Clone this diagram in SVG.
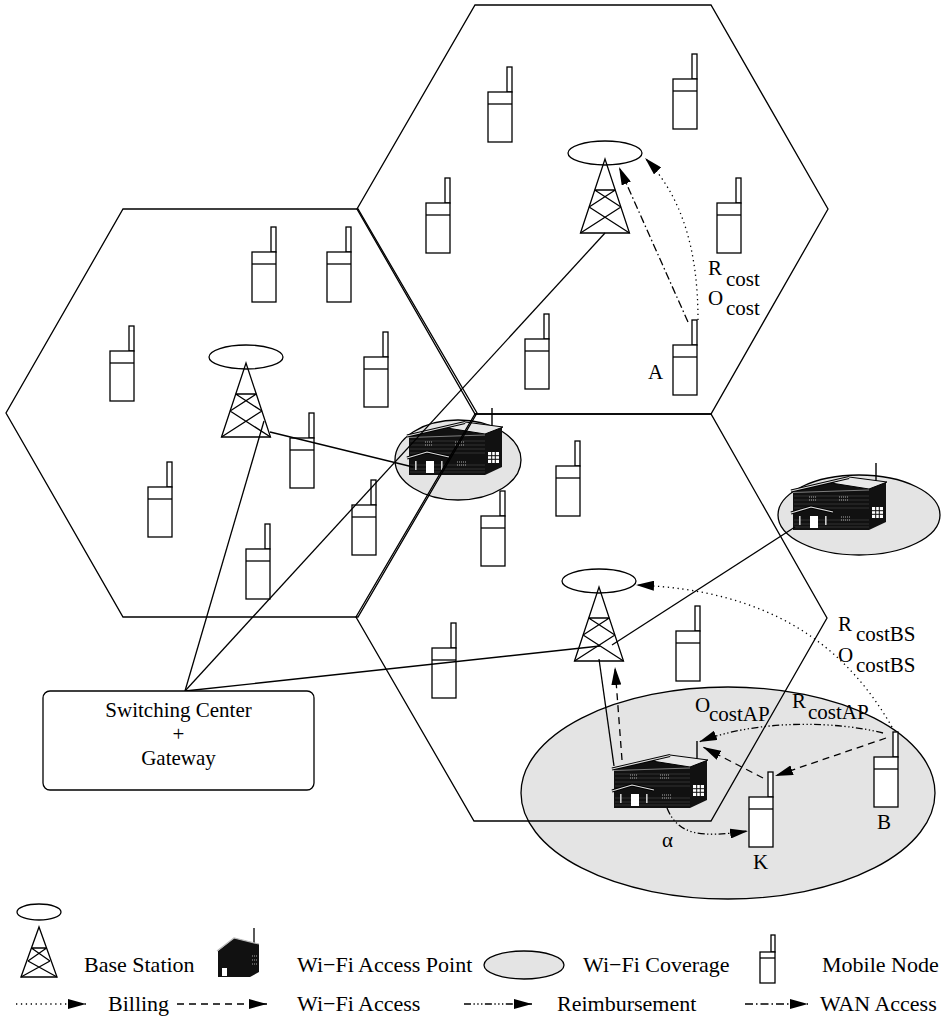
<svg xmlns="http://www.w3.org/2000/svg" xmlns:xlink="http://www.w3.org/1999/xlink" width="951" height="1024" viewBox="0 0 951 1024">
<style>
  .cell { fill: none; stroke: #000; stroke-width: 1.3; }
  .cover { fill: #e4e4e4; stroke: #000; stroke-width: 1.3; }
  .wire { fill: none; stroke: #000; stroke-width: 1.3; }
  .ln { fill: none; stroke: #000; stroke-width: 1.3; }
  .box { fill: #fff; stroke: #000; stroke-width: 1.3; }
  .flow { fill: none; stroke: #000; stroke-width: 1.3; }
  .billing { stroke-dasharray: 1.3 3.6; }
  .wifi { stroke-dasharray: 7 5; }
  .reimb { stroke-dasharray: 7 2.5 1.3 2.5 1.3 2.5 1.3 2.5; }
  .wan { stroke-dasharray: 8 3 1.5 3; }
  text { font-family: "Liberation Serif", "Times New Roman", serif; font-size: 21px; fill: #000; }
  #legend text { font-size: 22px; }
</style>
<defs>
  <marker id="ah" viewBox="0 0 18 10" refX="18" refY="5" markerWidth="18" markerHeight="10" markerUnits="userSpaceOnUse" orient="auto">
    <path d="M0,0 L18,5 L0,10 z" fill="#000"/>
  </marker>
  <!-- base station: antenna ring over a lattice tower, apex at origin -->
  <g id="tower">
    <ellipse cx="0" cy="-6" rx="37" ry="12" class="ln"/>
    <polygon points="-24.5,74 0,0 24.5,74" class="ln"/>
    <path d="M-10.3,31H10.3 M-10.3,31L15.9,48 M10.3,31L-15.9,48 M-15.9,48L24.5,74 M15.9,48L-24.5,74" class="ln"/>
  </g>
  <!-- handset: body top-left at origin -->
  <g id="mobile">
    <rect x="19" y="-25" width="5" height="25" class="box"/>
    <rect x="0" y="0" width="24" height="50" class="box"/>
    <line x1="0" y1="12" x2="24" y2="12" class="ln"/>
  </g>
  <!-- access point building -->
  <g id="ap">
    <line x1="85" y1="-12" x2="85" y2="6" stroke="#000" stroke-width="1.4"/>
    <polygon points="2,16 58,3 78,11 95,7 95,47 78,55 2,55" fill="#111"/>
    <polygon points="58,2 96,7 78,14 40,8" fill="#e8e8e8" stroke="#000" stroke-width="1"/>
    <line x1="0" y1="16" x2="58" y2="2.5" stroke="#000" stroke-width="3"/>
    <line x1="0" y1="16" x2="58" y2="2.5" stroke="#ddd" stroke-width="1.2"/>
    <line x1="2" y1="17.5" x2="78" y2="15" stroke="#999" stroke-width="0.8"/>
    <path d="M3,21H78M3,25H78M3,29H78M3,33H78M3,45H78M3,49H78M3,52H78" stroke="#3a3a3a" stroke-width="0.8"/>
    <path d="M18,22h8M18,25h8M48,22h9M48,25h9M50,42h10M50,45h10" stroke="#aaa" stroke-width="1" stroke-dasharray="1 1"/>
    <polyline points="0,38 20,32 42,37" fill="none" stroke="#000" stroke-width="3"/>
    <polyline points="0,38 20,32 42,37" fill="none" stroke="#e0e0e0" stroke-width="1.2"/>
    <rect x="19" y="41" width="8" height="12" fill="#fff"/>
    <rect x="8" y="41" width="1.6" height="9" fill="#ccc"/>
    <rect x="34" y="41" width="1.6" height="9" fill="#ccc"/>
    <rect x="81" y="32" width="11" height="11" fill="#fff"/>
    <path d="M81,35.7h11M81,39.3h11M84.7,32v11M88.3,32v11" stroke="#111" stroke-width="1"/>
  </g>
  <!-- small access point for the key -->
  <g id="ap-key">
    <line x1="37" y1="-10" x2="37" y2="6" stroke="#000" stroke-width="1.3"/>
    <polygon points="1,13 17,0 42,6 42,34 33,39 1,39" fill="#111"/>
    <polyline points="0,13 17,0 42,6" fill="none" stroke="#bbb" stroke-width="1.2"/>
    <rect x="5" y="30" width="5" height="8" fill="#fff"/>
    <path d="M35,18h5M35,22h5M35,26h5" stroke="#aaa" stroke-width="1" stroke-dasharray="1 1"/>
  </g>
</defs>

<!-- Wi-Fi coverage areas -->
<g id="coverage">
  <ellipse cx="458" cy="460" rx="63" ry="40" class="cover"/>
  <ellipse cx="859" cy="515" rx="81" ry="40" class="cover"/>
  <ellipse cx="728" cy="793" rx="207" ry="106" class="cover"/>
</g>

<!-- mobile nodes -->
<g id="mobile-nodes">
  <use xlink:href="#mobile" x="488" y="92"/>
  <use xlink:href="#mobile" x="673" y="79"/>
  <use xlink:href="#mobile" x="426" y="203"/>
  <use xlink:href="#mobile" x="717" y="203"/>
  <use xlink:href="#mobile" x="525" y="339"/>
  <g id="node-A"><use xlink:href="#mobile" x="673" y="345"/></g>
  <use xlink:href="#mobile" x="252" y="252"/>
  <use xlink:href="#mobile" x="327" y="252"/>
  <use xlink:href="#mobile" x="110" y="351"/>
  <use xlink:href="#mobile" x="364" y="357"/>
  <use xlink:href="#mobile" x="290" y="438"/>
  <use xlink:href="#mobile" x="148" y="487"/>
  <use xlink:href="#mobile" x="246" y="549"/>
  <use xlink:href="#mobile" x="352" y="505"/>
  <use xlink:href="#mobile" x="556" y="466"/>
  <use xlink:href="#mobile" x="481" y="516"/>
  <use xlink:href="#mobile" x="432" y="648"/>
  <use xlink:href="#mobile" x="676" y="631"/>
  <g id="node-K"><use xlink:href="#mobile" x="749" y="797"/></g>
  <g id="node-B"><use xlink:href="#mobile" x="874" y="757"/></g>
</g>

<!-- access points -->
<g id="ap-left"><use xlink:href="#ap" x="407" y="420"/></g>
<g id="ap-right"><use xlink:href="#ap" x="791" y="475"/></g>
<g id="ap-bottom"><use xlink:href="#ap" x="612" y="753"/></g>

<!-- hexagonal cells -->
<g id="cells">
  <polygon points="123,209 358,209 477,413 358,617 123,617 6,413" class="cell"/>
  <polygon points="475,5 711,5 828,209 711,414 475,414 357,209" class="cell"/>
  <polygon points="475,414 711,414 827,618 711,821 474,821 356,617" class="cell"/>
</g>

<!-- wired links -->
<g id="connectors">
  <line x1="185" y1="691" x2="264" y2="421" class="wire"/>
  <line x1="185" y1="691" x2="605" y2="233" class="wire"/>
  <line x1="185" y1="691" x2="600" y2="646" class="wire"/>
  <line x1="612" y1="645" x2="795" y2="527" class="wire"/>
  <line x1="270" y1="432" x2="413" y2="467" class="wire"/>
  <line x1="599" y1="659" x2="614" y2="766" class="wire"/>
</g>

<!-- base stations -->
<g id="bs-left"><use xlink:href="#tower" x="246" y="363"/></g>
<g id="bs-top"><use xlink:href="#tower" x="605" y="159"/></g>
<g id="bs-bottom"><use xlink:href="#tower" x="599" y="587"/></g>

<!-- switching center -->
<g id="switching-center">
  <rect x="43" y="691" width="271" height="99" rx="7" class="box"/>
  <text x="178.5" y="717" text-anchor="middle">Switching Center</text>
  <text x="178.5" y="741" text-anchor="middle">+</text>
  <text x="178.5" y="765" text-anchor="middle">Gateway</text>
</g>

<!-- message flows -->
<g id="flows">
  <path d="M688,322 L619,167" class="flow wan" marker-end="url(#ah)"/>
  <path d="M698,320 C698,250 682,196 645,158" class="flow billing" marker-end="url(#ah)"/>
  <path d="M892,727 C845,645 770,590 636,585" class="flow billing" marker-end="url(#ah)"/>
  <path d="M622,760 L615,667" class="flow wifi" marker-end="url(#ah)"/>
  <path d="M886,738 L775,776" class="flow wifi" marker-end="url(#ah)"/>
  <path d="M763,778 L703,747" class="flow wifi" marker-end="url(#ah)"/>
  <path d="M883,733 C840,722 760,718 699,742" class="flow reimb" marker-end="url(#ah)"/>
  <path d="M667,808 C678,835 700,838 748,831" class="flow reimb" marker-end="url(#ah)"/>
</g>

<!-- labels -->
<g id="labels">
  <text x="708" y="275">R</text><text x="726" y="286">cost</text>
  <text x="708" y="305">O</text><text x="726" y="315">cost</text>
  <text x="648" y="379">A</text>
  <text x="838" y="631">R</text><text x="856" y="641">costBS</text>
  <text x="838" y="662">O</text><text x="856" y="672">costBS</text>
  <text x="695" y="712">O</text><text x="709" y="721">costAP</text>
  <text x="792" y="708">R</text><text x="808" y="719">costAP</text>
  <text x="877" y="829">B</text>
  <text x="753" y="869">K</text>
  <text x="662" y="847">α</text>
</g>

<!-- key -->
<g id="legend">
  <g id="key-bs">
    <ellipse cx="39" cy="912" rx="22" ry="8" class="ln"/>
    <polygon points="21,977 39,927 57,977" class="ln"/>
    <path d="M31.4,948H46.6 M31.4,948L50,961 M46.6,948L28,961 M28,961L57,977 M50,961L21,977" class="ln"/>
    <text x="84" y="972">Base Station</text>
  </g>
  <g id="key-ap">
    <use xlink:href="#ap-key" x="217" y="938"/>
    <text x="297" y="972">Wi−Fi Access Point</text>
  </g>
  <g id="key-cover">
    <ellipse cx="524" cy="965" rx="40" ry="14" class="cover"/>
    <text x="583" y="972">Wi−Fi Coverage</text>
  </g>
  <g id="key-mobile">
    <rect x="771" y="935" width="4" height="17" class="box"/>
    <rect x="760" y="952" width="15" height="31" class="box"/>
    <line x1="760" y1="958" x2="775" y2="958" class="ln"/>
    <text x="822" y="972">Mobile Node</text>
  </g>
  <g id="key-billing">
    <path d="M16,1004 L86,1004" class="flow billing" marker-end="url(#ah)"/>
    <text x="108" y="1011">Billing</text>
  </g>
  <g id="key-wifi">
    <path d="M177,1004 L267,1004" class="flow wifi" marker-end="url(#ah)"/>
    <text x="297" y="1011">Wi−Fi Access</text>
  </g>
  <g id="key-reimb">
    <path d="M464,1004 L532,1004" class="flow reimb" marker-end="url(#ah)"/>
    <text x="557" y="1011">Reimbursement</text>
  </g>
  <g id="key-wan">
    <path d="M745,1004 L808,1004" class="flow wan" marker-end="url(#ah)"/>
    <text x="820" y="1011">WAN Access</text>
  </g>
</g>
</svg>
